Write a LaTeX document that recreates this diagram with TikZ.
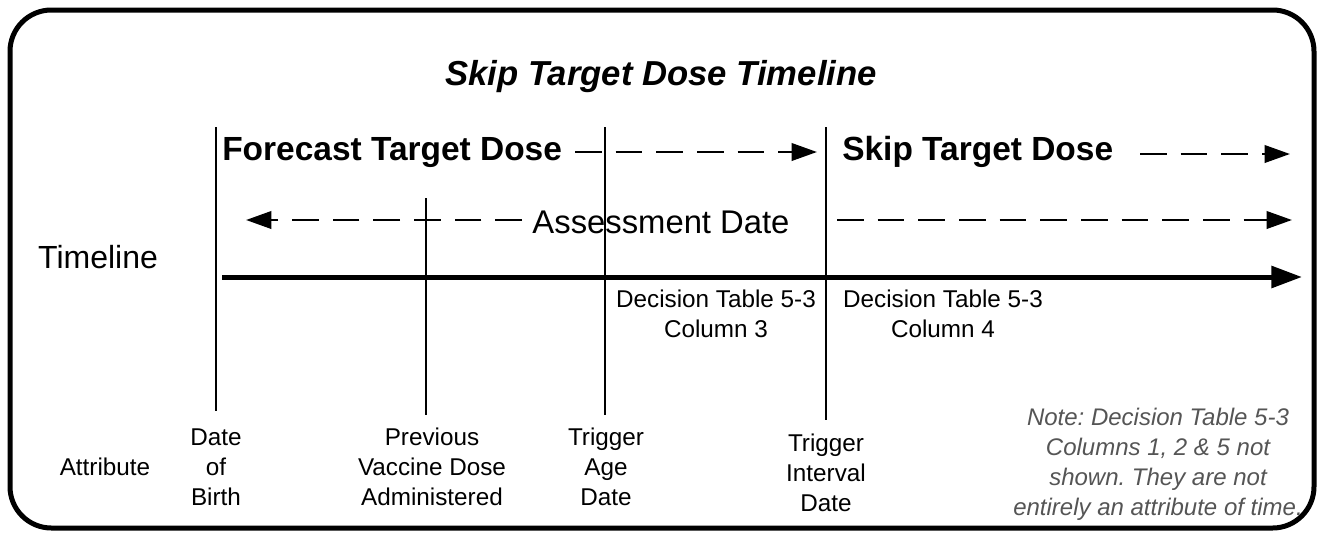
\documentclass[tikz,border=0pt]{standalone}
\usepackage{fontspec}
\setmainfont{Liberation Sans}
\usetikzlibrary{arrows.meta}
\definecolor{notegray}{HTML}{555555}
\frenchspacing
\begin{document}
\begin{tikzpicture}[x=0.75pt,y=-0.75pt,
  vline/.style={line width=1.9pt},
  dasharrow/.style={line width=2pt, dash pattern=on 20pt off 10.5pt, -{Triangle[length=19pt,width=13pt]}},
  mainarrow/.style={line width=3.75pt, -{Triangle[length=23pt,width=16pt]}},
  big/.style={inner sep=0pt, font=\fontsize{25.1}{29}\selectfont\bfseries},
  small/.style={inner sep=0pt, align=center, font=\fontsize{18.2}{22.5}\selectfont},
  note/.style={inner sep=0pt, align=center, text=notegray, font=\fontsize{18}{22.5}\selectfont\itshape}]
\useasboundingbox (0,0) rectangle (1322,533);
\draw[line width=3.75pt, rounded corners=31pt] (10,10) rectangle (1314,528);

% title
\node[inner sep=0pt, anchor=base, font=\fontsize{26}{30}\selectfont\bfseries\itshape] (title) at (661,85) {Skip Target Dose Timeline};

% vertical markers
\coordinate (dobT) at (216,127); \coordinate (dobB) at (216,411);
\coordinate (prevT) at (426,198); \coordinate (prevB) at (426,415);
\coordinate (ageT) at (605,127); \coordinate (ageB) at (605,415);
\coordinate (intT) at (826,127); \coordinate (intB) at (826,420);
\draw[vline] (dobT) -- (dobB);
\draw[vline] (prevT) -- (prevB);
\draw[vline] (ageT) -- (ageB);
\draw[vline] (intT) -- (intB);

% main axis
\coordinate (axS) at (222,277); \coordinate (axE) at (1302,277);
\draw[mainarrow] (axS) -- (axE);
\node[inner sep=0pt, anchor=base, font=\fontsize{24}{28}\selectfont] (timeline) at (98,268) {Timeline};

% forecast / skip
\node[big, anchor=base west] (forecast) at (222,160) {Forecast Target Dose};
\node[big, anchor=base west] (skip) at (842,160) {Skip Target Dose};
\coordinate (fa1) at (575,152); \coordinate (fa2) at (817,152);
\draw[dasharrow] (fa1) -- (fa2);
\coordinate (sa1) at (1140,154); \coordinate (sa2) at (1290,154);
\draw[dasharrow] (sa1) -- (sa2);

% assessment date
\node[inner sep=0pt, anchor=base, font=\fontsize{24.6}{29}\selectfont] (assess) at (661,233) {Assessment Date};
\coordinate (al1) at (522,220); \coordinate (al2) at (246,220);
\draw[dasharrow] (al1) -- (al2);
\coordinate (ar1) at (837,220); \coordinate (ar2) at (1292,220);
\draw[dasharrow] (ar1) -- (ar2);

% decision tables
\node[small] (dt3) at (716,314) {Decision Table 5-3\\Column 3};
\node[small] (dt4) at (943,314) {Decision Table 5-3\\Column 4};

% attributes
\node[small] (attr) at (105,467) {Attribute};
\node[small] (dob) at (216,467) {Date\\of\\Birth};
\node[small] (prev) at (432,467) {Previous\\Vaccine Dose\\Administered};
\node[small] (age) at (606,467) {Trigger\\Age\\Date};
\node[small] (int) at (826,473) {Trigger\\Interval\\Date};
\node[note] (notetext) at (1158,464) {Note: Decision Table 5-3\\Columns 1, 2 \& 5 not\\shown. They are not\\entirely an attribute of time.};
\end{tikzpicture}
\end{document}
